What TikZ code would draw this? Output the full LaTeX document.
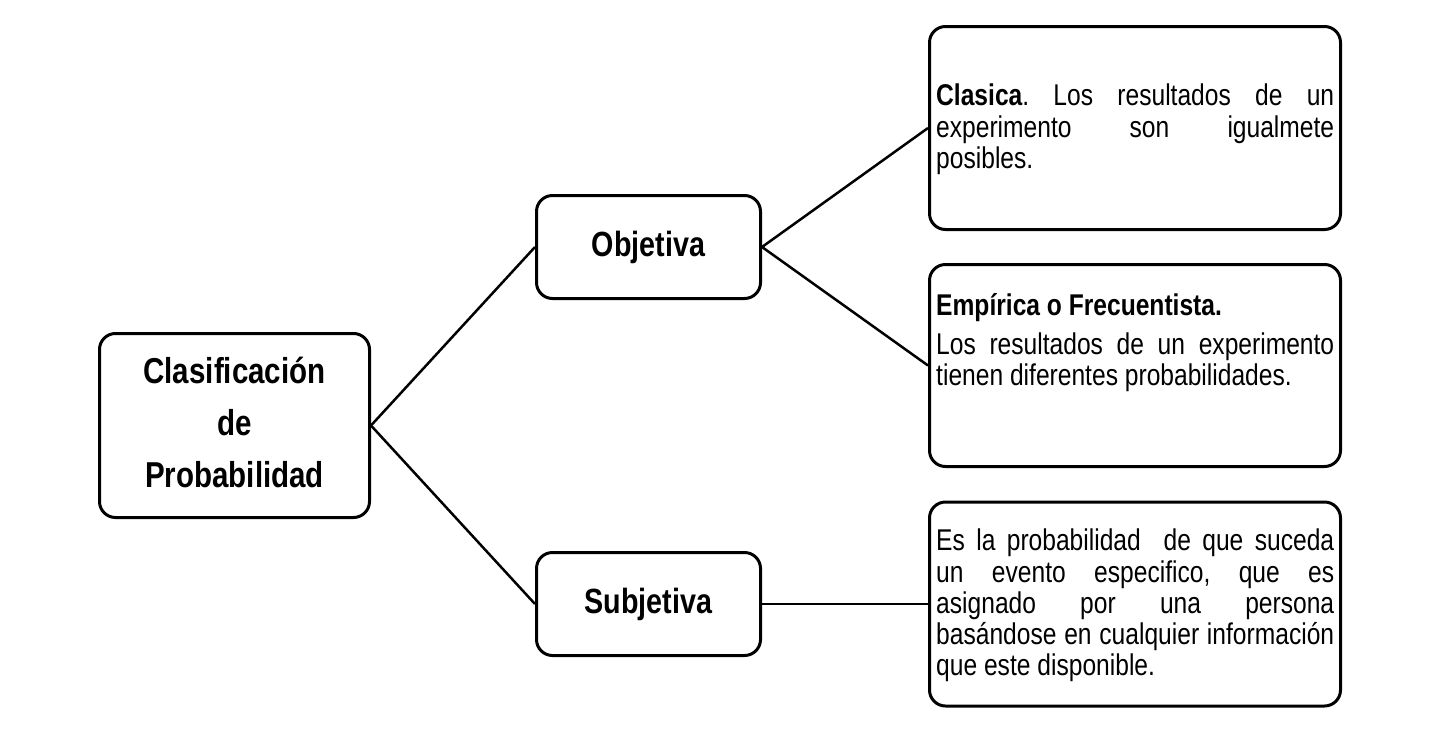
\documentclass[tikz,border=0pt]{standalone}
\usepackage{fontspec}
\setmainfont{Liberation Sans}[FakeStretch=0.82]
\frenchspacing
\begin{document}
\begin{tikzpicture}[x=1pt,y=-1pt,
  box/.style={draw=black,line width=3pt,rounded corners=16pt,inner sep=0pt,fill=white},
  head/.style={font=\fontsize{35}{52}\selectfont\bfseries,align=center},
  body/.style={inner sep=0pt,anchor=north west,text width=398pt,align=justify,
     font=\fontsize{30}{31}\selectfont},
  link/.style={line width=2.5pt}]
\useasboundingbox[fill=white] (0,0) rectangle (1440,731);
% boxes
\node[box,head,font=\fontsize{36}{52}\selectfont\bfseries,minimum width=270pt,minimum height=184pt] (root) at (234.5,425.5)
  {Clasificación\strut\\de\\\strut Probabilidad};
\node[box,head,minimum width=224pt,minimum height=103pt] (obj) at (648.5,247) {Objetiva};
\node[box,head,minimum width=224pt,minimum height=103pt] (subj) at (648.5,604) {Subjetiva};
\node[box,minimum width=411pt,minimum height=203pt] (cla) at (1135,128) {};
\node[box,minimum width=411pt,minimum height=202pt] (emp) at (1135,365.5) {};
\node[box,minimum width=411pt,minimum height=204pt] (desc) at (1135,604) {};
% texts
\node[body] (claT) at (936,83.3)
  {\strut\textbf{Clasica}. Los resultados de un\linebreak experimento son igualmete\linebreak posibles.};
\node[body] (empT) at (936,293.3)
  {\strut\textbf{Empírica o Frecuentista.}\par\vspace{7pt}
   Los resultados de un experimento\linebreak tienen diferentes probabilidades.};
\node[body] (descT) at (936,528.3)
  {\strut Es la probabilidad~ de que suceda\linebreak un evento especifico, que es\linebreak asignado por una persona\linebreak basándose en cualquier información\linebreak que este disponible.};
% connectors
\draw[link] (root.east) -- (obj.west);
\draw[link] (root.east) -- (subj.west);
\draw[link] (obj.east) -- (cla.west);
\draw[link] (obj.east) -- (emp.west);
\draw[link] (subj.east) -- (desc.west);
\end{tikzpicture}
\end{document}
